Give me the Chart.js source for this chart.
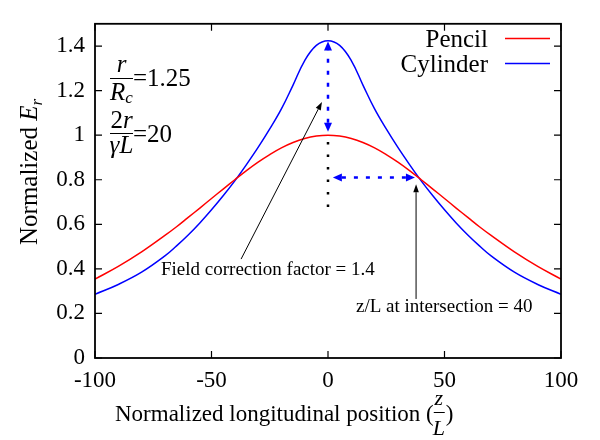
<!DOCTYPE html>
<html>
<head>
<meta charset="utf-8">
<script src="https://cdn.jsdelivr.net/npm/chart.js@4.4.1/dist/chart.umd.min.js"></script>
<style>
    body { margin: 0; background: #fff; }
</style>
</head>
<body>
<canvas id="field_chart" width="600" height="440"></canvas>
<script>
// z/L positions and normalized E_r
const positions = [-100, -90, -80, -70, -65, -60, -55, -50, -45, -40, -35, -30, -25, -20, -15, -10, -5, 0,
    5, 10, 15, 20, 25, 30, 35, 40, 45, 50, 55, 60, 65, 70, 80, 90, 100]
const pencil = [0.354, 0.411, 0.476, 0.550, 0.589, 0.631, 0.673, 0.716, 0.758, 0.800, 0.841, 0.879, 0.913, 0.943, 0.967, 0.985, 0.996, 1.0,
    0.996, 0.985, 0.967, 0.943, 0.913, 0.879, 0.841, 0.800, 0.758, 0.716, 0.673, 0.631, 0.589, 0.550, 0.476, 0.411, 0.354]
const cylinder = [0.286, 0.330, 0.385, 0.458, 0.503, 0.552, 0.606, 0.665, 0.728, 0.795, 0.868, 0.945, 1.028, 1.118, 1.225, 1.335, 1.403, 1.424,
    1.403, 1.335, 1.225, 1.118, 1.028, 0.945, 0.868, 0.795, 0.728, 0.665, 0.606, 0.552, 0.503, 0.458, 0.385, 0.330, 0.286]
const xTicks = [-100, -50, 0, 50, 100]
const yTicks = [0, 0.2, 0.4, 0.6, 0.8, 1, 1.2, 1.4]

const serif = '"Liberation Serif", "Times New Roman", serif'
const font = (size, italic) => (italic ? 'italic ' : '') + size + 'px ' + serif

function arrowHead(ctx, x1, y1, x2, y2, len, half) {
    const a = Math.atan2(y2 - y1, x2 - x1)
    const bx = x2 - len * Math.cos(a)
    const by = y2 - len * Math.sin(a)
    ctx.beginPath()
    ctx.moveTo(x2, y2)
    ctx.lineTo(bx + half * Math.sin(a), by - half * Math.cos(a))
    ctx.lineTo(bx - half * Math.sin(a), by + half * Math.cos(a))
    ctx.closePath()
    ctx.fill()
}

function arrow(ctx, x1, y1, x2, y2, opts) {
    const len = opts.len || 8
    const half = opts.half || 3
    ctx.save()
    ctx.strokeStyle = opts.color
    ctx.fillStyle = opts.color
    ctx.lineWidth = opts.width || 1
    const a = Math.atan2(y2 - y1, x2 - x1)
    let sx = x1, sy = y1, ex = x2, ey = y2
    if (opts.start) { sx += len * Math.cos(a); sy += len * Math.sin(a) }
    ex -= len * Math.cos(a); ey -= len * Math.sin(a)
    ctx.setLineDash(opts.dash || [])
    ctx.beginPath()
    ctx.moveTo(sx, sy)
    ctx.lineTo(ex, ey)
    ctx.stroke()
    ctx.setLineDash([])
    arrowHead(ctx, x1, y1, x2, y2, len, half)
    if (opts.start) arrowHead(ctx, x2, y2, x1, y1, len, half)
    ctx.restore()
}

// draws a list of [text, font, dy] pieces one after another
function runs(ctx, x, y, pieces) {
    let cx = x
    pieces.forEach(([t, f, dy]) => {
        ctx.font = f
        ctx.fillText(t, cx, y + (dy || 0))
        cx += ctx.measureText(t).width
    })
    return cx
}
function runsWidth(ctx, pieces) {
    let w = 0
    pieces.forEach(([t, f]) => { ctx.font = f; w += ctx.measureText(t).width })
    return w
}
function centered(ctx, cx, y, pieces) {
    runs(ctx, cx - runsWidth(ctx, pieces) / 2, y, pieces)
}

const decorations = {
    id: 'decorations',
    afterDraw(chart) {
        const { ctx, chartArea: area, scales: { x, y } } = chart
        ctx.save()
        ctx.fillStyle = '#000'
        ctx.textAlign = 'left'
        ctx.textBaseline = 'alphabetic'

        // frame and inward ticks
        ctx.strokeStyle = '#000'
        ctx.lineWidth = 1.8
        ctx.strokeRect(area.left, area.top, area.right - area.left, area.bottom - area.top)
        ctx.lineWidth = 1.2
        ctx.beginPath()
        xTicks.forEach(v => {
            const px = x.getPixelForValue(v)
            ctx.moveTo(px, area.bottom); ctx.lineTo(px, area.bottom - 7)
            ctx.moveTo(px, area.top); ctx.lineTo(px, area.top + 7)
        })
        yTicks.forEach(v => {
            const py = y.getPixelForValue(v)
            ctx.moveTo(area.left, py); ctx.lineTo(area.left + 7, py)
            ctx.moveTo(area.right, py); ctx.lineTo(area.right - 7, py)
        })
        ctx.stroke()

        // legend
        ctx.font = font(25)
        ctx.textAlign = 'right'
        ctx.fillText('Pencil', 488, 47)
        ctx.fillText('Cylinder', 488, 72)
        ctx.textAlign = 'left'
        ctx.lineWidth = 1.5
        ctx.strokeStyle = '#ff0000'
        ctx.beginPath(); ctx.moveTo(505, 38.5); ctx.lineTo(550, 38.5); ctx.stroke()
        ctx.strokeStyle = '#0000ff'
        ctx.beginPath(); ctx.moveTo(505, 63.5); ctx.lineTo(550, 63.5); ctx.stroke()

        // parameter fractions
        ctx.strokeStyle = '#000'
        ctx.lineWidth = 1
        centered(ctx, 121.5, 72, [['r', font(25, true)]])
        ctx.beginPath(); ctx.moveTo(110, 78.5); ctx.lineTo(133, 78.5); ctx.stroke()
        centered(ctx, 121.5, 100, [['R', font(25, true)], ['c', font(17, true), 3]])
        runs(ctx, 133, 86, [['=1.25', font(25)]])
        centered(ctx, 121.5, 128, [['2', font(25)], ['r', font(25, true)]])
        ctx.beginPath(); ctx.moveTo(110, 133.5); ctx.lineTo(133, 133.5); ctx.stroke()
        centered(ctx, 121.5, 153, [['\u03b3L', font(25, true)]])
        runs(ctx, 133, 141.5, [['=20', font(25)]])

        // axis titles
        ctx.save()
        ctx.translate(37, 245)
        ctx.rotate(-Math.PI / 2)
        runs(ctx, 0, 0, [['Normalized ', font(25)], ['E', font(25, true)], ['r', font(17, true), 5]])
        ctx.restore()
        const endX = runs(ctx, 115, 420.5, [['Normalized longitudinal position (', font(23)]])
        centered(ctx, endX + 5, 405, [['z', font(22, true)]])
        ctx.beginPath(); ctx.moveTo(endX, 412.5); ctx.lineTo(endX + 11, 412.5); ctx.stroke()
        centered(ctx, endX + 5, 435, [['L', font(22, true)]])
        runs(ctx, endX + 12, 420.5, [[')', font(23)]])

        // peak ratio markers
        const x0 = x.getPixelForValue(0)
        arrow(ctx, x0, y.getPixelForValue(1.015), x0, y.getPixelForValue(1.42),
            { color: '#0000ff', width: 2.5, dash: [4, 8], start: true, len: 9, half: 4 })
        ctx.save()
        ctx.strokeStyle = '#000'
        ctx.lineWidth = 2.5
        ctx.setLineDash([2.5, 10])
        ctx.beginPath()
        ctx.moveTo(x0, y.getPixelForValue(0.97))
        ctx.lineTo(x0, y.getPixelForValue(0.64))
        ctx.stroke()
        ctx.restore()
        arrow(ctx, x.getPixelForValue(2.1), y.getPixelForValue(0.81), x.getPixelForValue(37.3), y.getPixelForValue(0.81),
            { color: '#0000ff', width: 2.5, dash: [4, 8], start: true, len: 9, half: 4 })

        // callouts
        arrow(ctx, x.getPixelForValue(-37.3), y.getPixelForValue(0.444), x.getPixelForValue(-2.6), y.getPixelForValue(1.149),
            { color: '#000', width: 1, len: 8, half: 2.8 })
        arrow(ctx, x.getPixelForValue(37.8), y.getPixelForValue(0.265), x.getPixelForValue(37.8), y.getPixelForValue(0.78),
            { color: '#000', width: 1, len: 8, half: 2.8 })
        ctx.fillStyle = '#000'
        runs(ctx, 161, 275, [['Field correction factor = 1.4', font(19)]])
        runs(ctx, 356, 311.5, [['z/L at intersection = 40', font(19)]])

        ctx.restore()
    }
}

const data = {
    datasets: [{
        label: 'Pencil',
        data: positions.map((p, i) => ({ x: p, y: pencil[i] })),
        borderColor: '#ff0000',
        borderWidth: 1.5,
        pointRadius: 0,
        fill: false,
        tension: 0.4
    }, {
        label: 'Cylinder',
        data: positions.map((p, i) => ({ x: p, y: cylinder[i] })),
        borderColor: '#0000ff',
        borderWidth: 1.5,
        pointRadius: 0,
        fill: false,
        tension: 0.4
    }]
}

const config = {
    type: 'line',
    data: data,
    options: {
        responsive: false,
        animation: false,
        layout: { padding: { top: 10, right: 39, left: 0, bottom: 0 } },
        plugins: { legend: { display: false }, tooltip: { enabled: false } },
        scales: {
            x: {
                type: 'linear',
                min: -100,
                max: 100,
                afterBuildTicks: axis => { axis.ticks = xTicks.map(v => ({ value: v })) },
                afterFit: axis => { axis.height = 82 },
                grid: { display: false, drawTicks: false },
                border: { display: false },
                ticks: { color: '#000', padding: 9, maxRotation: 0, font: { family: serif, size: 23 } }
            },
            y: {
                min: 0,
                max: 1.5,
                afterBuildTicks: axis => { axis.ticks = yTicks.map(v => ({ value: v })) },
                afterFit: axis => { axis.width = 95 },
                grid: { display: false, drawTicks: false },
                border: { display: false },
                ticks: {
                    color: '#000',
                    padding: 10,
                    font: { family: serif, size: 23 },
                    callback: v => String(Number(v.toFixed(1)))
                }
            }
        }
    },
    plugins: [decorations]
}

const ctx = document.getElementById('field_chart').getContext('2d')
const fieldChart = new Chart(ctx, config)
</script>
</body>
</html>
